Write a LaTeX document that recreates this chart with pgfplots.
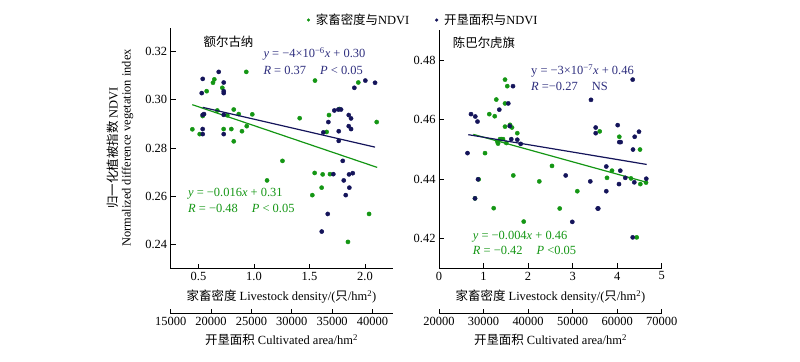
\documentclass[border=0pt]{standalone}
\usepackage{pgfplots}
\pgfplotsset{compat=1.18}
\usepackage{fontspec}
\setmainfont{Liberation Serif}
\newfontfamily\cjk{Noto Sans CJK SC}
\definecolor{cgreen}{RGB}{20,150,20}
\definecolor{cnavy}{RGB}{20,20,90}
\definecolor{cnavytxt}{RGB}{45,45,125}
\newcommand{\fs}{\fontsize{12.5}{14}\selectfont}

\pgfplotstableread{
d v
0.445 0.2878
0.511 0.2858
0.538 0.2933
0.574 0.3036
0.631 0.3071
0.643 0.3085
0.715 0.3050
0.670 0.2956
0.760 0.2936
0.727 0.2879
0.796 0.2879
0.818 0.2828
0.818 0.2960
0.863 0.2941
0.892 0.2870
0.935 0.2891
0.985 0.2940
0.931 0.3116
1.257 0.2747
1.118 0.2666
1.550 0.3080
1.412 0.2924
1.940 0.3072
2.106 0.2908
1.676 0.2937
1.769 0.2962
1.655 0.2867
1.547 0.2697
1.619 0.2691
1.685 0.2692
1.610 0.2636
1.526 0.2605
2.037 0.2527
1.847 0.2411
}\leftgreen

\pgfplotstableread{
a v
20947 0.3116
18965 0.3087
21567 0.3072
21567 0.3036
21567 0.3028
18841 0.3028
18965 0.2938
19126 0.2941
21567 0.2938
18965 0.2879
18965 0.2858
21567 0.2858
37748 0.3050
39111 0.3080
40313 0.3071
35270 0.2956
35766 0.2960
36100 0.2960
37054 0.2937
37339 0.2923
34527 0.2908
37054 0.2891
37339 0.2879
33907 0.2865
35815 0.2870
35815 0.2830
36311 0.2747
35146 0.2692
37091 0.2691
37550 0.2696
36435 0.2666
37129 0.2636
36683 0.2605
34452 0.2527
33709 0.2454
}\leftnavy

\pgfplotstableread{
d v
1.482 0.4734
1.533 0.4712
1.286 0.4667
1.482 0.4654
1.129 0.4618
1.251 0.4611
1.482 0.4576
1.594 0.4582
1.639 0.4573
1.758 0.4554
1.370 0.4534
1.309 0.4526
1.325 0.4519
1.399 0.4534
1.437 0.4534
1.511 0.4521
1.033 0.4487
1.668 0.4412
0.891 0.4399
0.808 0.4335
1.228 0.4302
1.902 0.4257
2.252 0.4392
2.537 0.4444
2.710 0.4301
3.105 0.4359
3.608 0.4560
3.772 0.4404
3.884 0.4428
4.048 0.4542
4.311 0.4402
4.513 0.4499
4.520 0.4383
4.648 0.4388
4.439 0.4204
}\rightgreen

\pgfplotstableread{
a v
36613 0.4712
35558 0.4654
27184 0.4618
28149 0.4610
28643 0.4593
33537 0.4633
35872 0.4578
36231 0.4534
37578 0.4532
38342 0.4518
26398 0.4487
28756 0.4399
28082 0.4335
63486 0.4734
54124 0.4666
55179 0.4573
55179 0.4554
60118 0.4581
60477 0.4524
60792 0.4524
64900 0.4559
63935 0.4542
63553 0.4499
48444 0.4412
53967 0.4392
57559 0.4442
60702 0.4428
60410 0.4383
57559 0.4359
55628 0.4301
55763 0.4301
61824 0.4404
63845 0.4389
66539 0.4401
49926 0.4256
63486 0.4204
}\rightnavy

\pgfplotsset{
  base/.style={scale only axis, anchor=south west,
    axis line style={line width=0.8bp,-}, tick style={line width=0.8bp,black},
    major tick length=5bp, tick align=inside,
    /pgf/number format/assume math mode=true,
    tick label style={font=\fs}},
  pts/.style={only marks, mark=*, mark size=2.1bp},
}

\begin{document}
\begin{tikzpicture}
\useasboundingbox (0,0) rectangle (800bp,-362bp);

% ---------------- Left panel ----------------
\begin{axis}[base, at={(170.7bp,-268.7bp)}, width=222bp, height=241.2bp,
  xmin=0.25, xmax=2.25, ymin=0.23, ymax=0.33,
  axis x line*=bottom, axis y line*=left,
  xtick={0.5,1,1.5,2}, ytick={0.24,0.26,0.28,0.30,0.32},
  xticklabel style={/pgf/number format/.cd, fixed, fixed zerofill, precision=1},
  yticklabel style={/pgf/number format/.cd, fixed, fixed zerofill, precision=2},
  legend columns=2,
  legend style={draw=none, fill=none, font=\fs, at={(0.600,1.031)}, anchor=west,
    /tikz/every odd column/.append style={column sep=4bp},
    /tikz/every even column/.append style={column sep=24bp}},
  legend cell align=left]
\addlegendimage{only marks, mark=*, mark size=1.4bp, cgreen}
\addlegendentry{{\cjk 家畜密度与}NDVI}
\addlegendimage{only marks, mark=*, mark size=1.4bp, cnavy}
\addlegendentry{{\cjk 开垦面积与}NDVI}
\addplot[pts, cgreen, forget plot] table[x=d, y=v] {\leftgreen};
\addplot[cgreen, line width=1.2bp, forget plot] coordinates {(0.445,0.2980) (2.11,0.2720)};
\end{axis}

\begin{axis}[base, at={(170.7bp,-268.7bp)}, width=222bp, height=241.2bp,
  xmin=15000, xmax=42500, ymin=0.23, ymax=0.33, hide axis]
\addplot[pts, cnavy] table[x=a, y=v] {\leftnavy};
\addplot[cnavy, line width=1.2bp] coordinates {(18965,0.2969) (40313,0.2804)};
\end{axis}

\begin{axis}[base, at={(170.7bp,-313.5bp)}, width=222bp, height=10bp,
  xmin=15000, xmax=42500, ymin=0, ymax=1,
  axis x line*=bottom, axis y line=none,
  xtick={15000,20000,25000,30000,35000,40000}, scaled x ticks=false,
  xticklabel style={/pgf/number format/.cd, fixed, 1000 sep={}}]
\end{axis}

% ---------------- Right panel ----------------
\begin{axis}[base, at={(439bp,-268.3bp)}, width=222.7bp, height=238.1bp,
  xmin=0, xmax=5, ymin=0.41, ymax=0.49,
  axis x line*=bottom, axis y line*=left,
  xtick={0,1,2,3,4,5}, ytick={0.42,0.44,0.46,0.48},
  yticklabel style={/pgf/number format/.cd, fixed, fixed zerofill, precision=2}]
\addplot[pts, cgreen] table[x=d, y=v] {\rightgreen};
\addplot[cgreen, line width=1.2bp] coordinates {(0.770,0.4550) (4.663,0.4389)};
\end{axis}

\begin{axis}[base, at={(439bp,-268.3bp)}, width=222.7bp, height=238.1bp,
  xmin=20000, xmax=70000, ymin=0.41, ymax=0.49, hide axis]
\addplot[pts, cnavy] table[x=a, y=v] {\rightnavy};
\addplot[cnavy, line width=1.2bp] coordinates {(26578,0.4549) (66628,0.4449)};
\end{axis}

\begin{axis}[base, at={(439bp,-313.5bp)}, width=222.7bp, height=10bp,
  xmin=20000, xmax=70000, ymin=0, ymax=1,
  axis x line*=bottom, axis y line=none,
  xtick={20000,30000,40000,50000,60000,70000}, scaled x ticks=false,
  xticklabel style={/pgf/number format/.cd, fixed, 1000 sep={}}]
\end{axis}

% ---------------- Texts ----------------
\node[font=\fs, rotate=90, inner sep=0pt] at (113bp,-148bp)
  {{\cjk 归一化植被指数} NDVI};
\node[font=\fs, rotate=90, inner sep=0pt] at (127.5bp,-148bp)
  {Normalized difference vegetation index};

\node[font=\fs] at (228.5bp,-42bp) {\cjk 额尔古纳};
\node[font=\fs] at (484bp,-42.7bp) {\cjk 陈巴尔虎旗};

\node[font=\fs, text=cnavytxt, anchor=west, inner sep=0pt] at (263.3bp,-54bp)
  {\textit{y} = −4×10\textsuperscript{−6}\textit{x} + 0.30};
\node[font=\fs, text=cnavytxt, anchor=west, inner sep=0pt] at (263.3bp,-70bp)
  {\textit{R} = 0.37\hspace{14bp}\textit{P} < 0.05};
\node[font=\fs, text=cgreen, anchor=west, inner sep=0pt] at (188bp,-193.3bp)
  {\textit{y} = −0.016\textit{x} + 0.31};
\node[font=\fs, text=cgreen, anchor=west, inner sep=0pt] at (188bp,-208.3bp)
  {\textit{R} = −0.48\hspace{14bp}\textit{P} < 0.05};

\node[font=\fs, text=cnavytxt, anchor=west, inner sep=0pt] at (531bp,-70.7bp)
  {y = −3×10\textsuperscript{−7}\textit{x} + 0.46};
\node[font=\fs, text=cnavytxt, anchor=west, inner sep=0pt] at (531bp,-86bp)
  {\textit{R} =−0.27\hspace{14bp}NS};
\node[font=\fs, text=cgreen, anchor=west, inner sep=0pt] at (472.7bp,-236.7bp)
  {\textit{y} = −0.004\textit{x} + 0.46};
\node[font=\fs, text=cgreen, anchor=west, inner sep=0pt] at (472.7bp,-250.7bp)
  {\textit{R} = −0.42\hspace{14bp}\textit{P} <0.05};

\node[font=\fs] at (281.5bp,-297bp) {{\cjk 家畜密度} Livestock density/({\cjk 只}/hm\textsuperscript{2})};
\node[font=\fs] at (550.5bp,-297bp) {{\cjk 家畜密度} Livestock density/({\cjk 只}/hm\textsuperscript{2})};
\node[font=\fs] at (281.5bp,-340bp) {{\cjk 开垦面积} Cultivated area/hm\textsuperscript{2}};
\node[font=\fs] at (550.5bp,-340bp) {{\cjk 开垦面积} Cultivated area/hm\textsuperscript{2}};
\end{tikzpicture}
\end{document}
